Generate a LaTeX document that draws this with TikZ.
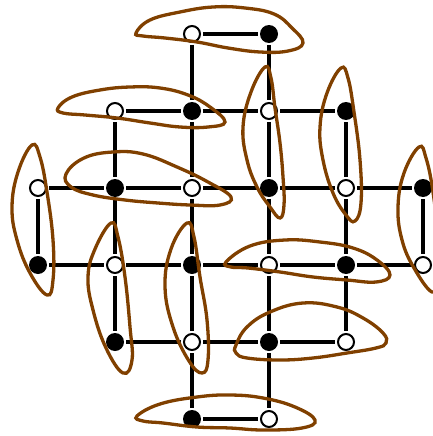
\documentclass[tikz,border=0pt]{standalone}
\begin{document}
\begin{tikzpicture}[x=1pt,y=-1pt,
  wnode/.style={circle,draw=black,fill=white,line width=2pt,minimum size=16pt,inner sep=0pt,outer sep=3pt},
  bnode/.style={circle,fill=black,minimum size=18pt,inner sep=0pt,outer sep=2pt},
  edge/.style={line width=3.6pt,black},
  blob/.style={line width=3.3pt,draw={rgb,255:red,128;green,64;blue,0}}]
\useasboundingbox (0,0) rectangle (433,436);
% row 34
\node[wnode] (a1) at (192,34) {};
\node[bnode] (a2) at (269,34) {};
% row 111
\node[wnode] (b1) at (115,111) {};
\node[bnode] (b2) at (192,111) {};
\node[wnode] (b3) at (269,111) {};
\node[bnode] (b4) at (346,111) {};
% row 188
\node[wnode] (c0) at (38,188) {};
\node[bnode] (c1) at (115,188) {};
\node[wnode] (c2) at (192,188) {};
\node[bnode] (c3) at (269,188) {};
\node[wnode] (c4) at (346,188) {};
\node[bnode] (c5) at (423,188) {};
% row 265
\node[bnode] (d0) at (38,265) {};
\node[wnode] (d1) at (115,265) {};
\node[bnode] (d2) at (192,265) {};
\node[wnode] (d3) at (269,265) {};
\node[bnode] (d4) at (346,265) {};
\node[wnode] (d5) at (423,265) {};
% row 342
\node[bnode] (e1) at (115,342) {};
\node[wnode] (e2) at (192,342) {};
\node[bnode] (e3) at (269,342) {};
\node[wnode] (e4) at (346,342) {};
% row 419
\node[bnode] (f1) at (192,419) {};
\node[wnode] (f2) at (269,419) {};
% horizontal edges
\draw[edge] (a1) -- (a2);
\draw[edge] (b1) -- (b2); \draw[edge] (b2) -- (b3); \draw[edge] (b3) -- (b4);
\draw[edge] (c0) -- (c1); \draw[edge] (c1) -- (c2); \draw[edge] (c2) -- (c3); \draw[edge] (c3) -- (c4); \draw[edge] (c4) -- (c5);
\draw[edge] (d0) -- (d1); \draw[edge] (d1) -- (d2); \draw[edge] (d2) -- (d3); \draw[edge] (d3) -- (d4); \draw[edge] (d4) -- (d5);
\draw[edge] (e1) -- (e2); \draw[edge] (e2) -- (e3); \draw[edge] (e3) -- (e4);
\draw[edge] (f1) -- (f2);
% vertical edges
\draw[edge] (c0) -- (d0);
\draw[edge] (b1) -- (c1); \draw[edge] (c1) -- (d1); \draw[edge] (d1) -- (e1);
\draw[edge] (a1) -- (b2); \draw[edge] (b2) -- (c2); \draw[edge] (c2) -- (d2); \draw[edge] (d2) -- (e2); \draw[edge] (e2) -- (f1);
\draw[edge] (a2) -- (b3); \draw[edge] (b3) -- (c3); \draw[edge] (c3) -- (d3); \draw[edge] (d3) -- (e3); \draw[edge] (e3) -- (f2);
\draw[edge] (b4) -- (c4); \draw[edge] (c4) -- (d4); \draw[edge] (d4) -- (e4);
\draw[edge] (c5) -- (d5);
% blobs
\draw[blob] plot[smooth cycle,tension=0.7] coordinates {(136,33) (150,20) (180,12) (213,7) (245,8) (274,14) (292,28) (303,43) (288,51) (260,52) (228,48) (197,42) (165,38) (143,36)};
\draw[blob] plot[smooth cycle,tension=0.7] coordinates {(58,108) (72,97) (100,90) (130,87) (160,88) (188,95) (210,107) (225,122) (208,127) (180,127) (150,123) (117,118) (85,115) (63,113)};
\draw[blob] plot[smooth cycle,tension=0.7] coordinates {(265,67) (251,92) (243,127) (247,160) (257,187) (270,207) (280,218) (284,205) (283,177) (280,143) (275,108) (271,78)};
\draw[blob] plot[smooth cycle,tension=0.7] coordinates {(341,68) (327,93) (320,127) (323,160) (333,193) (346,215) (355,221) (361,203) (360,160) (354,112) (348,78)};
\draw[blob] plot[smooth cycle,tension=0.7] coordinates {(66,174) (84,158) (113,152) (143,154) (177,167) (208,182) (231,197) (220,205) (190,205) (158,203) (125,200) (93,195) (71,187)};
\draw[blob] plot[smooth cycle,tension=0.7] coordinates {(32,145) (18,172) (12,207) (17,240) (30,273) (47,295) (53,280) (53,240) (47,192) (40,157)};
\draw[blob] plot[smooth cycle,tension=0.7] coordinates {(419,147) (404,173) (398,207) (402,240) (414,268) (432,292) (438,278) (438,240) (433,192) (426,158)};
\draw[blob] plot[smooth cycle,tension=0.7] coordinates {(226,262) (250,246) (285,240) (320,242) (353,248) (377,260) (390,275) (376,282) (347,280) (313,277) (280,272) (248,268) (231,267)};
\draw[blob] plot[smooth cycle,tension=0.7] coordinates {(111,223) (95,249) (88,277) (93,310) (106,348) (123,373) (132,360) (130,327) (125,277) (118,237)};
\draw[blob] plot[smooth cycle,tension=0.7] coordinates {(187,223) (171,249) (165,287) (173,327) (189,361) (202,373) (208,360) (207,320) (200,277) (194,237)};
\draw[blob] plot[smooth cycle,tension=0.7] coordinates {(236,345) (247,327) (270,312) (303,303) (337,307) (363,318) (383,333) (386,343) (376,348) (347,353) (313,358) (280,360) (247,358) (236,353)};
\draw[blob] plot[smooth cycle,tension=0.7] coordinates {(137,416) (160,404) (197,397) (230,395) (263,398) (295,407) (315,420) (302,428) (263,430) (230,428) (197,427) (163,423) (143,421)};
\end{tikzpicture}
\end{document}
